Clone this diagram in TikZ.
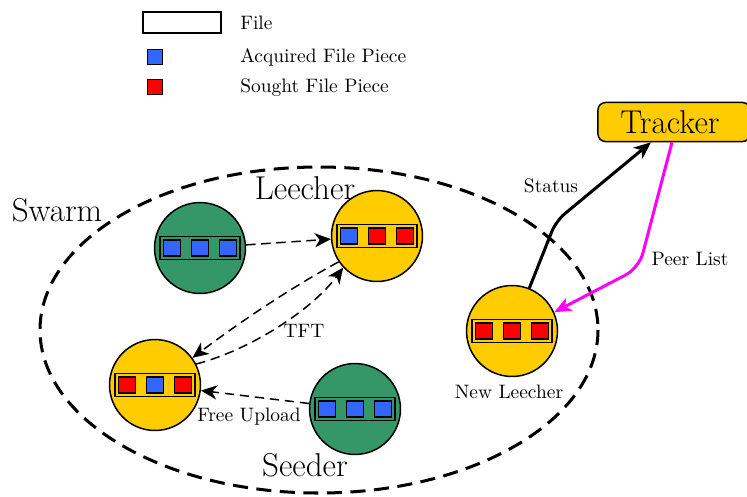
\documentclass[tikz,border=0pt]{standalone}
\usetikzlibrary{arrows.meta,calc}

\definecolor{seedgreen}{RGB}{53,151,104}
\definecolor{leechyellow}{RGB}{255,204,0}
\definecolor{pieceblue}{RGB}{51,102,255}
\definecolor{piecered}{RGB}{255,0,0}
\definecolor{peermagenta}{RGB}{255,0,255}

\tikzset{
  peernode/.style={circle, draw, line width=0.8pt, minimum size=48.2pt, inner sep=0pt},
  filebar/.style={rectangle, draw, line width=0.8pt, minimum width=42.4pt, minimum height=12.2pt, inner sep=0pt},
  piece/.style={rectangle, draw, line width=0.8pt, minimum width=8.8pt, minimum height=8.4pt, inner sep=0pt},
  legendpiece/.style={rectangle, draw, line width=0.8pt, minimum size=8pt, inner sep=0pt},
  legendtext/.style={anchor=base west, inner sep=0pt, font=\fontsize{10.3}{12}\selectfont},
  biglabel/.style={font=\fontsize{17.5}{21}\selectfont, inner sep=0pt},
  smalllabel/.style={font=\fontsize{10.3}{12}\selectfont, inner sep=0pt},
  swarmline/.style={line width=1.6pt, dash pattern=on 8pt off 4.5pt},
  transfer/.style={line width=0.8pt, dash pattern=on 5pt off 3pt, -{Stealth[length=8.5pt,width=7.5pt,inset=2.5pt]}},
  statusline/.style={line width=1.6pt, rounded corners=6pt, -{Stealth[length=9pt,width=7.5pt,inset=2.5pt]}},
  peerlistline/.style={line width=1.6pt, draw=peermagenta, rounded corners=8pt, -{Stealth[length=9pt,width=7.5pt,inset=2.5pt]}},
  pics/peer/.style n args={4}{code={
    \node[peernode, fill=#1] (-c) at (0,0) {};
    \node[filebar, fill=#1] (-bar) at (0,0) {};
    \node[piece, fill=#2] (-p1) at (-28,0) {};
    \node[piece, fill=#3] (-p2) at (0,0) {};
    \node[piece, fill=#4] (-p3) at (28,0) {};
  }}
}

\begin{document}
\begin{tikzpicture}[x=0.53pt, y=-0.53pt]
  \clip (0,0) rectangle (747,496);

  % legend
  \node[rectangle, draw, line width=0.8pt, fill=white, minimum width=41.3pt, minimum height=11.1pt, inner sep=0pt] (lfile) at (182,22.5) {};
  \node[legendpiece, fill=pieceblue] (lblue) at (155,57) {};
  \node[legendpiece, fill=piecered] (lred) at (155,87) {};
  \node[legendtext] (tfile) at (240,29) {File};
  \node[legendtext] (tacq) at (240,62) {Acquired File Piece};
  \node[legendtext] (tsought) at (240,92) {Sought File Piece};

  % swarm boundary
  \draw[swarmline] (319,330) ellipse [x radius=279, y radius=163];

  % tracker
  \node[rectangle, rounded corners=4pt, draw, line width=0.8pt, fill=leechyellow,
        minimum width=80.6pt, minimum height=20.7pt, inner sep=0pt] (T) at (674,122) {};
  \node[biglabel] (ttxt) at (670,122) {Tracker};

  % peers
  \pic (A) at (200,248) {peer={seedgreen}{pieceblue}{pieceblue}{pieceblue}};
  \pic (B) at (377,236) {peer={leechyellow}{pieceblue}{piecered}{piecered}};
  \pic (C) at (155,385) {peer={leechyellow}{piecered}{pieceblue}{piecered}};
  \pic (D) at (355,409) {peer={seedgreen}{pieceblue}{pieceblue}{pieceblue}};
  \pic (N) at (512,331) {peer={leechyellow}{piecered}{piecered}{piecered}};

  % labels
  \node[biglabel] (lswarm) at (57,210) {Swarm};
  \node[biglabel] (lleech) at (305,188) {Leecher};
  \node[biglabel] (lseed) at (305,465) {Seeder};
  \node[smalllabel] (lnew) at (509,392) {New Leecher};
  \node[smalllabel] (ltft) at (304,331) {TFT};
  \node[smalllabel] (lfree) at (249,417) {Free Upload};
  \node[smalllabel] (lstatus) at (551,186) {Status};
  \node[smalllabel] (lpeer) at (690,259) {Peer List};

  % piece transfers
  \draw[transfer] (A-c) -- (B-c);
  \draw[transfer] (B-c.214) .. controls (292,287) and (240,322) .. (C-c.36);
  \draw[transfer] (C-c.27) .. controls (250,350) and (312,310) .. (B-c.223);
  \draw[transfer] (D-c) -- (C-c);

  % tracker communication
  \draw[statusline] (N-c.68) -- (556,221) -- ($(T.south)+(-23,0)$);
  \draw[peerlistline] ($(T.south)+(-2,0)$) -- (639,268) -- (N-c.24);
\end{tikzpicture}
\end{document}
